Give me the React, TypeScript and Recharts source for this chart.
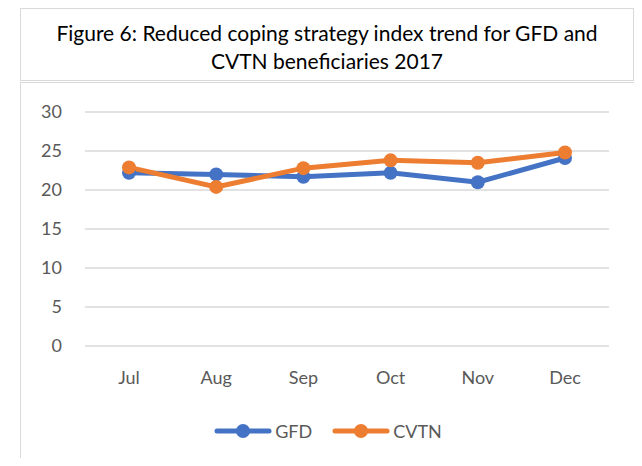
import React from "react";
import { LineChart, Line, XAxis, YAxis, CartesianGrid } from "recharts";

const months = ["Jul", "Aug", "Sep", "Oct", "Nov", "Dec"];
const gfd = [22.2, 22.0, 21.7, 22.2, 21.0, 24.1];
const cvtn = [22.9, 20.4, 22.8, 23.8, 23.5, 24.8];
const yTicks = [0, 5, 10, 15, 20, 25, 30];

const data = months.map((m, i) => ({ month: m, GFD: gfd[i], CVTN: cvtn[i] }));

const FONT = "Lato, 'Open Sans', sans-serif";
const BLUE = "#4472C4";
const ORANGE = "#ED7D31";

function LegendItem({ color, label }: { color: string; label: string }) {
  return (
    <div style={{ display: "flex", alignItems: "center", marginRight: 20 }}>
      <svg width={58} height={16}>
        <line x1={3} y1={8} x2={55} y2={8} stroke={color} strokeWidth={5} strokeLinecap="round" />
        <circle cx={29} cy={8} r={7} fill={color} />
      </svg>
      <span style={{ marginLeft: 3, fontSize: 18, color: "#595959", fontFamily: FONT }}>{label}</span>
    </div>
  );
}

export default function App() {
  return (
    <div style={{ position: "relative", width: 642, height: 466, margin: -8, background: "#fff", overflow: "hidden" }}>
      <div
        style={{
          position: "absolute",
          left: 20,
          top: 8,
          width: 614,
          height: 73,
          paddingTop: 4,
          border: "1.5px solid #D9D9D9",
          boxSizing: "border-box",
          display: "flex",
          alignItems: "center",
          justifyContent: "center",
          textAlign: "center",
          fontFamily: FONT,
          fontSize: 21,
          lineHeight: "28px",
          color: "#000",
        }}
      >
        <div>
          Figure 6: Reduced coping strategy index trend for GFD and
          <br />
          CVTN beneficiaries 2017
        </div>
      </div>
      <div
        style={{
          position: "absolute",
          left: 20,
          top: 82,
          width: 618,
          height: 400,
          border: "1.5px solid #D9D9D9",
          boxSizing: "border-box",
        }}
      />
      <div style={{ position: "absolute", left: 0, top: 0 }}>
        <LineChart width={642} height={466} data={data} margin={{ top: 112, right: 33, bottom: 80, left: 25 }}>
          <CartesianGrid vertical={false} stroke="#D9D9D9" strokeWidth={1.5} />
          <XAxis
            dataKey="month"
            axisLine={false}
            tickLine={false}
            tickSize={0}
            tickMargin={25}
            height={40}
            padding={{ left: 44, right: 44 }}
            tick={{ fill: "#595959", fontSize: 18, fontFamily: FONT }}
          />
          <YAxis
            domain={[0, 30]}
            ticks={yTicks}
            axisLine={false}
            tickLine={false}
            tickSize={0}
            tickMargin={23}
            width={60}
            tick={{ fill: "#595959", fontSize: 18, fontFamily: FONT }}
          />
          <Line
            dataKey="GFD"
            stroke={BLUE}
            strokeWidth={5}
            dot={{ r: 7, fill: BLUE, stroke: BLUE, strokeWidth: 0 }}
            isAnimationActive={false}
          />
          <Line
            dataKey="CVTN"
            stroke={ORANGE}
            strokeWidth={5}
            dot={{ r: 7, fill: ORANGE, stroke: ORANGE, strokeWidth: 0 }}
            isAnimationActive={false}
          />
        </LineChart>
      </div>
      <div
        style={{
          position: "absolute",
          left: 0,
          top: 420,
          width: 642,
          display: "flex",
          justifyContent: "center",
          paddingLeft: 34,
          boxSizing: "border-box",
        }}
      >
        <LegendItem color={BLUE} label="GFD" />
        <LegendItem color={ORANGE} label="CVTN" />
      </div>
    </div>
  );
}
